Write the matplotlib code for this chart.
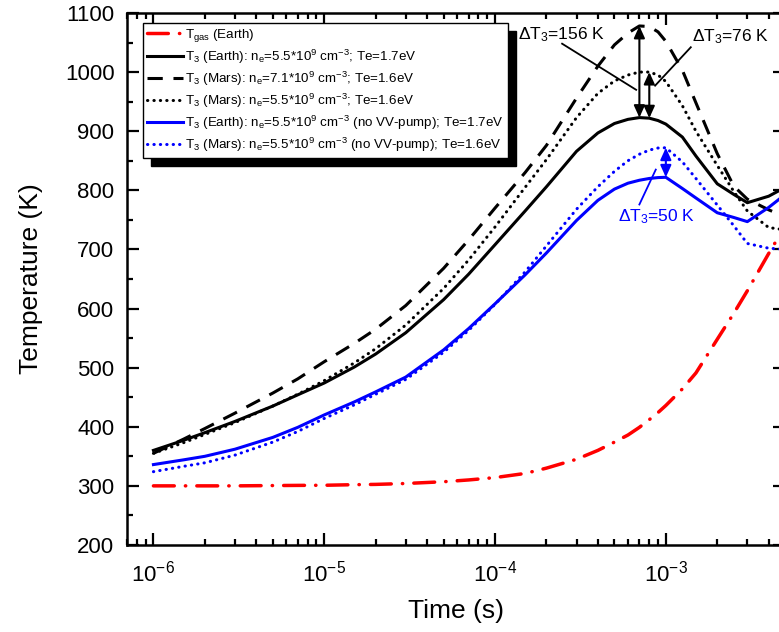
import numpy as np
import matplotlib
matplotlib.use('Agg')
import matplotlib.pyplot as plt
from matplotlib.ticker import LogLocator, MultipleLocator, NullFormatter

plt.rcParams['font.family'] = ['Liberation Sans', 'DejaVu Sans']
plt.rcParams['mathtext.default'] = 'regular'

# time points (s)
t = [1e-6, 1.5e-6, 2e-6, 3e-6, 5e-6, 7e-6, 1e-5, 1.5e-5, 2e-5, 3e-5, 5e-5, 7e-5,
     1e-4, 1.5e-4, 2e-4, 3e-4, 4e-4, 5e-4, 6e-4, 7e-4, 8e-4, 9e-4, 1e-3,
     1.25e-3, 1.5e-3, 2e-3, 2.5e-3, 3e-3, 4e-3, 5e-3]

T_gas_earth = [300, 300, 300, 300, 300.5, 300.8, 301, 302, 302.5, 304, 307, 310,
               314, 321, 330, 345, 360, 374, 386, 399, 412, 424, 436,
               464, 491, 548, 592, 630, 693, 740]
T3_earth = [360, 377, 390, 409, 435, 454, 474, 501, 523, 559, 615, 658,
            708, 765, 806, 866, 897, 913, 920, 923, 922, 918, 912,
            890, 858, 811, 793, 779, 790, 805]
T3_mars_71 = [355, 379, 397, 423, 457, 481, 510, 541, 565, 605, 668, 716,
              770, 830, 876, 956, 1010, 1046, 1066, 1078, 1077, 1068, 1052,
              1003, 948, 862, 807, 785, 767, 755]
T3_mars_55 = [355, 373, 387, 407, 435, 455, 478, 508, 532, 572, 634, 682,
              738, 805, 852, 923, 964, 985, 995, 1000, 1000, 995, 984,
              943, 900, 842, 798, 765, 737, 733]
T3_earth_novv = [336, 344, 350, 362, 382, 399, 420, 442, 459, 484, 530, 566,
                 608, 657, 694, 749, 783, 802, 812, 817, 820, 821.5, 822,
                 803, 787, 762, 754, 747, 771, 793]
T3_mars_novv = [324, 333, 339, 352, 374, 392, 414, 437, 455, 480, 526, 563,
                607, 662, 706, 768, 806, 832, 850, 861, 868, 871.5, 872,
                848, 820, 775, 740, 710, 702, 700]

labels = [
    r'T$_{gas}$ (Earth)',
    r'T$_3$ (Earth): n$_e$=5.5*10$^9$ cm$^{-3}$; Te=1.7eV',
    r'T$_3$ (Mars): n$_e$=7.1*10$^9$ cm$^{-3}$; Te=1.6eV',
    r'T$_3$ (Mars): n$_e$=5.5*10$^9$ cm$^{-3}$; Te=1.6eV',
    r'T$_3$ (Earth): n$_e$=5.5*10$^9$ cm$^{-3}$ (no VV-pump); Te=1.7eV',
    r'T$_3$ (Mars): n$_e$=5.5*10$^9$ cm$^{-3}$ (no VV-pump); Te=1.6eV',
]

fig = plt.figure(figsize=(7.79, 6.32), dpi=100)
ax = fig.add_axes([0.163, 0.1377, 0.845, 0.8418])

lw = 2.2
ax.plot(t, T_gas_earth, color='red', lw=2.5, linestyle=(0, (6, 3.2, 0.1, 3.2)),
        dash_capstyle='round', label=labels[0])
ax.plot(t, T3_earth, color='black', lw=lw, label=labels[1])
ax.plot(t, T3_mars_71, color='black', lw=lw, linestyle=(0, (5, 3.5)), label=labels[2])
ax.plot(t, T3_mars_55, color='black', lw=lw, linestyle=(0, (0.1, 2)),
        dash_capstyle='round', label=labels[3])
ax.plot(t, T3_earth_novv, color='blue', lw=lw, label=labels[4])
ax.plot(t, T3_mars_novv, color='blue', lw=lw, linestyle=(0, (0.1, 2)),
        dash_capstyle='round', label=labels[5])

ax.set_xscale('log')
ax.set_xlim(7e-7, 5e-3)
ax.set_ylim(200, 1100)
ax.yaxis.set_major_locator(MultipleLocator(100))
ax.yaxis.set_minor_locator(MultipleLocator(50))
ax.xaxis.set_major_locator(LogLocator(base=10, numticks=20))
ax.xaxis.set_minor_locator(LogLocator(base=10, subs=np.arange(2, 10), numticks=20))
ax.xaxis.set_minor_formatter(NullFormatter())

for s in ax.spines.values():
    s.set_linewidth(1.8)
ax.tick_params(which='both', direction='in', top=True, right=True, width=1.6,
               labelsize=16)
ax.tick_params(which='major', length=8.5, pad=9)
ax.tick_params(axis='x', which='major', pad=11)
ax.tick_params(which='minor', length=4.5)

ax.set_xlabel('Time (s)', fontsize=19, labelpad=9)
ax.set_ylabel('Temperature (K)', fontsize=19, labelpad=16)

leg = ax.legend(loc='upper left', bbox_to_anchor=(0.024, 0.981), borderaxespad=0,
                fontsize=9.6, frameon=True, fancybox=False, edgecolor='black',
                framealpha=1, handlelength=2.7, handletextpad=0.2,
                labelspacing=0.28, borderpad=0.3,
                shadow={'ox': 6, 'oy': -6, 'color': 'black', 'alpha': 1})
leg.get_frame().set_linewidth(1.0)

# delta T3 arrows, placed at the curve peaks
i_pk = int(np.argmax(T3_earth))
i_pk2 = i_pk + 1
i_bl = t.index(1e-3)
arr = dict(arrowstyle='<|-|>,head_length=0.55,head_width=0.25', color='black',
           lw=1.5, shrinkA=0, shrinkB=0, mutation_scale=13)
ax.annotate('', xy=(t[i_pk], max(T3_mars_71)), xytext=(t[i_pk], T3_earth[i_pk]),
            arrowprops=arr)
ax.annotate('', xy=(t[i_pk2], max(T3_mars_55)), xytext=(t[i_pk2], T3_earth[i_pk2]),
            arrowprops=arr)
arr_b = dict(arr, color='blue')
ax.annotate('', xy=(t[i_bl], max(T3_mars_novv)), xytext=(t[i_bl], T3_earth_novv[i_bl]),
            arrowprops=arr_b)

ax.text(2.46e-4, 1063, r'ΔT$_3$=156 K', fontsize=12.5, ha='center', va='center')
ax.plot([2.47e-4, 6.7e-4], [1048, 970], color='black', lw=1.3)
ax.text(2.4e-3, 1060, r'ΔT$_3$=76 K', fontsize=12.5, ha='center', va='center')
ax.plot([1.4e-3, 8.65e-4], [1042, 977], color='black', lw=1.3)
ax.text(8.8e-4, 756, r'ΔT$_3$=50 K', fontsize=12.5, ha='center', va='center',
        color='blue')
ax.plot([7.0e-4, 8.73e-4], [776, 835], color='blue', lw=1.3)

fig.savefig('out.png', dpi=100)
